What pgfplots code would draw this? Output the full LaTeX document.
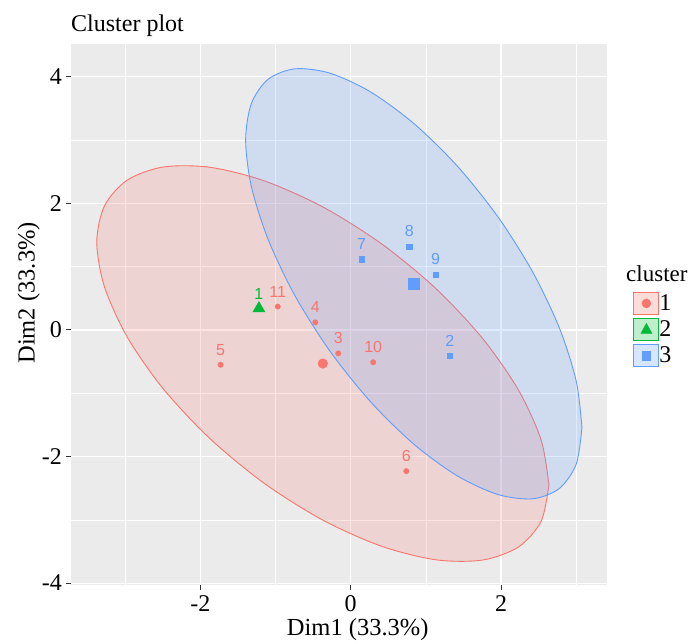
\documentclass[border=0pt]{standalone}
\usepackage{pgfplots}
\pgfplotsset{compat=1.18}
\usepackage{fontspec}
\setmainfont{Liberation Serif}
\newfontfamily\lsans{Liberation Sans}
\definecolor{cred}{HTML}{F8766D}
\definecolor{cgreen}{HTML}{00BA38}
\definecolor{cblue}{HTML}{619CFF}
\definecolor{panel}{HTML}{EBEBEB}
\definecolor{tickc}{HTML}{333333}
\begin{document}
\begin{tikzpicture}
\useasboundingbox (-71pt,-59pt) rectangle (620pt,585pt);
\begin{axis}[
  scale only axis, width=536pt, height=541pt,
  xmin=-3.72, xmax=3.41, ymin=-4.03, ymax=4.52,
  axis background/.style={fill=panel},
  axis line style={draw=none},
  xtick={-2,0,2}, ytick={-4,-2,0,2,4},
  minor xtick={-3,-1,1,3}, minor ytick={-3,-1,1,3},
  grid=both,
  major grid style={white, line width=1.1pt},
  minor grid style={white, line width=0.6pt},
  tick align=outside, tick pos=left,
  major tick length=5pt, minor tick length=0pt,
  every tick/.style={tickc, line width=1pt},
  /pgf/number format/assume math mode=true,
  ticklabel style={font=\fontsize{24}{24}\selectfont, text=black, inner sep=0pt},
  xticklabel style={yshift=-5pt},
  yticklabel style={xshift=-4pt},
  xlabel={Dim1 (33.3\%)}, ylabel={Dim2 (33.3\%)},
  xlabel style={font=\fontsize{24.5}{24.5}\selectfont, inner sep=0pt, at={(axis description cs:0.535,-0.093)}, anchor=base},
  ylabel style={font=\fontsize{24.5}{24.5}\selectfont, inner sep=0pt, at={(axis description cs:-0.068,0.54)}, anchor=base, rotate=0},
  legend style={at={(axis description cs:1.049,0.542)}, anchor=north west, draw=none, fill=none,
    font=\fontsize{24}{24}\selectfont, inner sep=0pt, row sep=3pt,
    nodes={inner sep=0pt, anchor=west}},
  legend cell align=left,
  /tikz/every even column/.append style={column sep=8pt},
]
% cluster 1 points
\addplot[forget plot, only marks, mark=*, mark size=2.7pt, color=cred,
  nodes near coords, point meta=explicit symbolic,
  every node near coord/.style={anchor=center, yshift=15pt, font=\lsans\fontsize{16}{16}\selectfont, text=cred}]
  table[meta=lab] {
x y lab
-0.165 -0.37 3
-0.47 0.12 4
-1.73 -0.55 5
0.74 -2.23 6
0.30 -0.51 10
-0.97 0.37 11
};
% cluster 2 point
\addplot[forget plot, only marks, mark=triangle*, mark size=4pt, color=cgreen,
  nodes near coords, point meta=explicit symbolic,
  every node near coord/.style={anchor=center, yshift=14pt, font=\lsans\fontsize{16}{16}\selectfont, text=cgreen}]
  table[meta=lab] {
x y lab
-1.22 0.34 1
};
% cluster 3 points
\addplot[forget plot, only marks, mark=square*, mark size=2.6pt, color=cblue,
  nodes near coords, point meta=explicit symbolic,
  every node near coord/.style={anchor=center, yshift=15pt, font=\lsans\fontsize{16}{16}\selectfont, text=cblue}]
  table[meta=lab] {
x y lab
1.32 -0.41 2
0.146 1.12 7
0.78 1.32 8
1.13 0.88 9
};
% ellipse cluster 1
\addplot[forget plot, color=cred, line width=0.9pt, fill=cred, fill opacity=0.2, smooth] coordinates {
(2.637,-2.447) (2.5345,-1.741) (2.2341,-0.9526) (1.7563,-0.1354) (1.1335,0.6549) (0.4082,1.3645)
(-0.37,1.945) (-1.1482,2.3567) (-1.8735,2.5719) (-2.4963,2.5756) (-2.9741,2.3676) (-3.2745,1.9621)
(-3.377,1.387) (-3.2745,0.6811) (-2.9741,-0.1074) (-2.4963,-0.9246) (-1.8735,-1.7149) (-1.1482,-2.4245)
(-0.37,-3.005) (0.4082,-3.4167) (1.1335,-3.6319) (1.7563,-3.6356) (2.2341,-3.4276) (2.5345,-3.0221)
(2.637,-2.447)
};
% ellipse cluster 3
\addplot[forget plot, color=cblue, line width=0.9pt, fill=cblue, fill opacity=0.2, smooth] coordinates {
(3.077,-1.541) (3.0007,-0.8078) (2.7772,0.0303) (2.4218,0.916) (1.9585,1.7889) (1.4189,2.5899)
(0.84,3.264) (0.2611,3.7653) (-0.2785,4.0599) (-0.7418,4.1276) (-1.0972,3.9637) (-1.3207,3.5794)
(-1.397,3.001) (-1.3207,2.2678) (-1.0972,1.4297) (-0.7418,0.544) (-0.2785,-0.3289) (0.2611,-1.1299)
(0.84,-1.804) (1.4189,-2.3053) (1.9585,-2.5999) (2.4218,-2.6676) (2.7772,-2.5037) (3.0007,-2.1194)
(3.077,-1.541)
};
% centroids
\addplot[forget plot, only marks, mark=*, mark size=4.8pt, color=cred] coordinates {(-0.37,-0.53)};
\addplot[forget plot, only marks, mark=triangle*, mark size=7pt, color=cgreen] coordinates {(-1.22,0.34)};
\addplot[forget plot, only marks, mark=square*, mark size=5.3pt, color=cblue] coordinates {(0.84,0.73)};
% legend
\addlegendimage{legend image code/.code={
  \draw[draw=cred, fill=cred!25!white, line width=0.9pt] (0pt,-11pt) rectangle (25pt,11pt);
  \fill[cred] (12.5pt,0pt) circle (4.5pt);}}
\addlegendentry{1}
\addlegendimage{legend image code/.code={
  \draw[draw=cgreen, fill=cgreen!25!white, line width=0.9pt] (0pt,-11pt) rectangle (25pt,11pt);
  \fill[cgreen] (12.5pt,6pt) -- (18pt,-4pt) -- (7pt,-4pt) -- cycle;}}
\addlegendentry{2}
\addlegendimage{legend image code/.code={
  \draw[draw=cblue, fill=cblue!25!white, line width=0.9pt] (0pt,-11pt) rectangle (25pt,11pt);
  \fill[cblue] (8.5pt,-5pt) rectangle (16.5pt,4pt);}}
\addlegendentry{3}
\end{axis}
\node[anchor=base west, inner sep=0pt, font=\fontsize{24}{24}\selectfont] at (0pt,553pt) {Cluster plot};
\node[anchor=base west, inner sep=0pt, font=\fontsize{23}{23}\selectfont] at (555pt,303.3pt) {cluster};
\end{tikzpicture}
\end{document}
